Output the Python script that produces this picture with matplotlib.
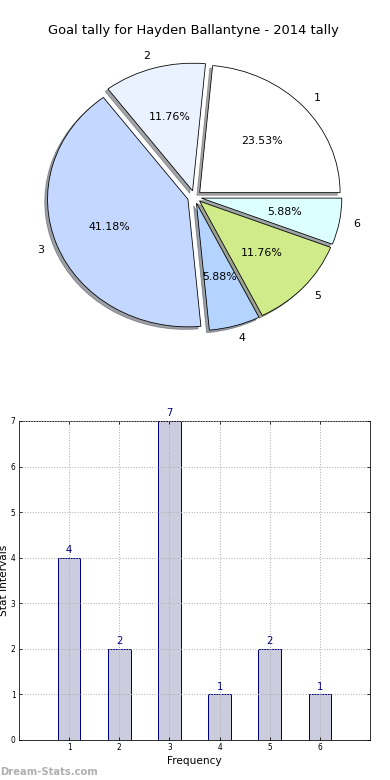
import numpy as np
import matplotlib
matplotlib.use('Agg')
import matplotlib.pyplot as plt

title = 'Goal tally for Hayden Ballantyne - 2014 tally'
categories = ['1', '2', '3', '4', '5', '6']
goals = [4, 2, 7, 1, 2, 1]
slice_colors = ['#ffffff', '#eaf1ff', '#c4d7ff', '#b4d4ff', '#d0eb8a', '#dcffff']

fig = plt.figure(figsize=(390 / 72, 780 / 72), dpi=72)

# pie on top
ax1 = fig.add_axes([0.0487, 0.543, 0.9, 0.409])
wedges, texts, autotexts = ax1.pie(goals, labels=categories, colors=slice_colors,
                                   explode=[0.05] * len(goals), shadow=True,
                                   startangle=0, autopct='%.2f%%',
                                   labeldistance=1.1, pctdistance=0.6,
                                   wedgeprops={'edgecolor': 'black', 'linewidth': 0.8})
for t in texts + autotexts:
    t.set_fontsize(11)
ax1.set_aspect('auto')
ax1.set_xlim(-1.25, 1.25)
ax1.set_ylim(-1.25, 1.25)
fig.text(0.497, 0.9615, title, ha='center', va='center', fontsize=13)

# bars below
ax2 = fig.add_axes([0.0487, 0.0513, 0.9, 0.409])
x = np.arange(1, len(goals) + 1)
bars = ax2.bar(x, goals, width=0.45, color='#ccccdf', edgecolor='#000080', linewidth=1)
for xi, v in zip(x, goals):
    ax2.text(xi, v + 0.06, str(v), ha='center', va='bottom', color='#000080', fontsize=10)
ax2.set_xlim(0, 7)
ax2.set_ylim(0, 7)
ax2.set_xticks(x)
ax2.set_yticks(range(0, 8))
ax2.tick_params(labelsize=7.5, direction='in', top=True, right=True, length=3)
ax2.grid(True, linestyle=':', color='#b0b0b0', linewidth=1)
ax2.set_axisbelow(False)
ax2.set_xlabel('Frequency', fontsize=10.5, labelpad=4)
ax2.set_ylabel('Stat Intervals', fontsize=10.5, labelpad=2)

fig.text(0.0, 0.006, 'Dream-Stats.com', fontsize=10, weight='bold', color='#b0b0b0')

fig.savefig('out.png', dpi=72)
